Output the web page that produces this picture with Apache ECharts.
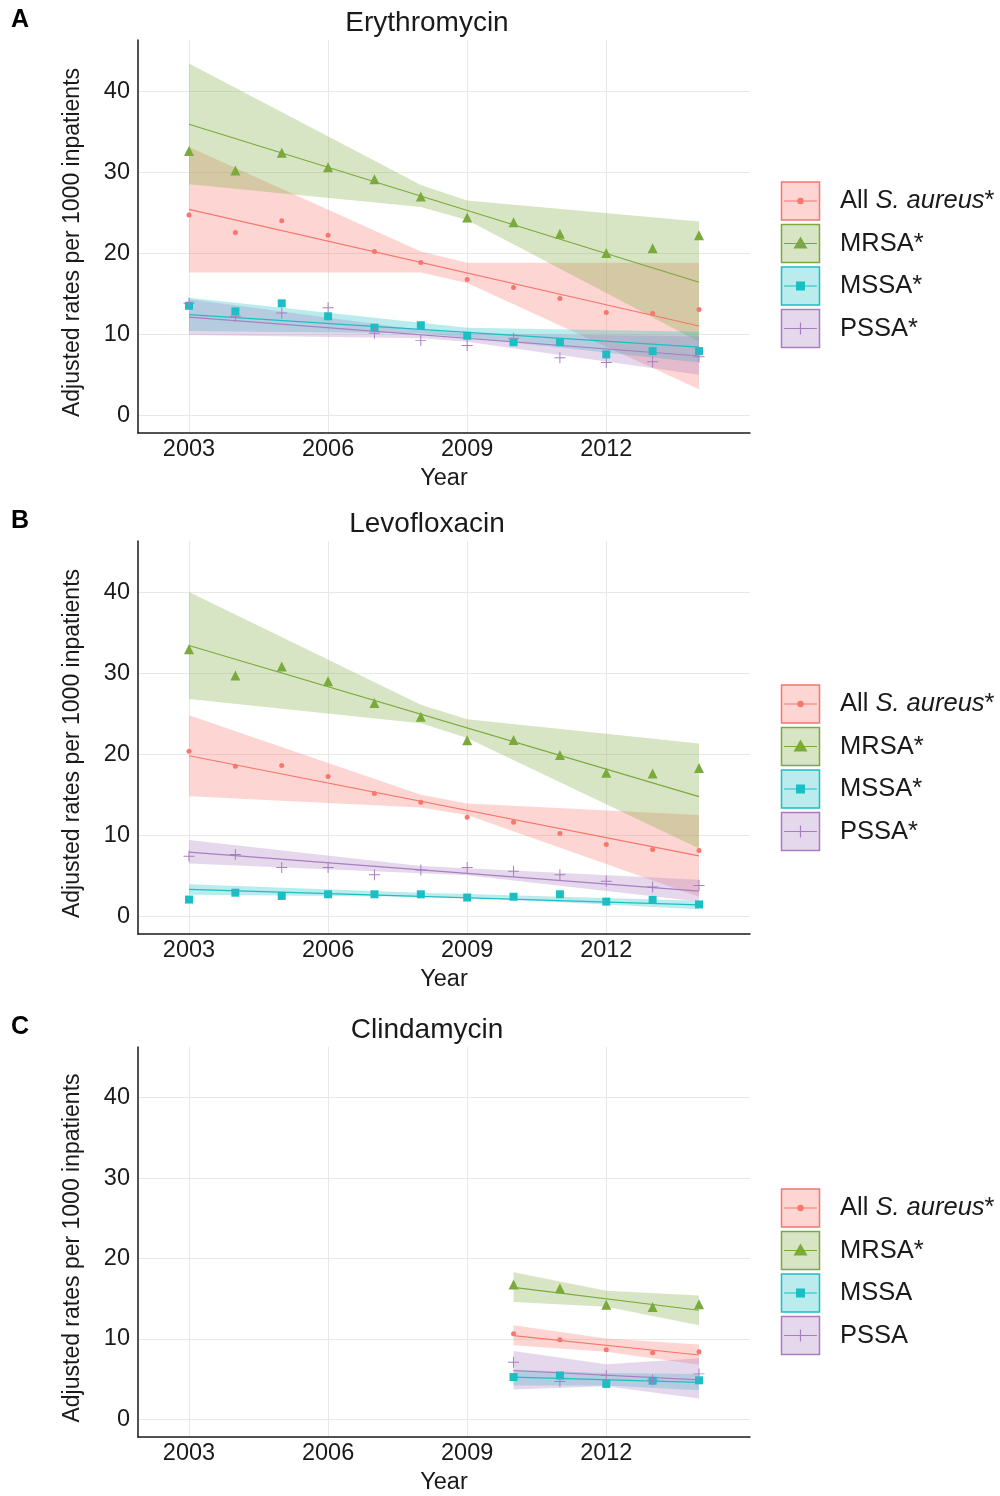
<!DOCTYPE html>
<html>
<head>
<meta charset="utf-8">
<script src="https://cdn.jsdelivr.net/npm/echarts@6/dist/echarts.min.js"></script>
<style>
  html, body { margin: 0; padding: 0; background: #fff; }
  #chart { width: 1000px; height: 1496px; }
</style>
</head>
<body>
<div id="chart"></div>
<script>
// groups, in legend order: All S. aureus, MRSA, MSSA, PSSA
const groups = ['All S. aureus', 'MRSA', 'MSSA', 'PSSA']
const colors = ['#F8766D', '#7AAA3C', '#1ABFC4', '#A97DC1']
const bands = ['rgba(248,118,109,0.3)', 'rgba(122,170,60,0.3)', 'rgba(26,191,196,0.3)', 'rgba(169,125,193,0.3)']

const panelTitles = ['Erythromycin', 'Levofloxacin', 'Clindamycin']
const panelLetters = ['A', 'B', 'C']
const legendStars = [['*', '*', '*', '*'], ['*', '*', '*', '*'], ['*', '*', '', '']]

const xTicks = [2003, 2006, 2009, 2012]
const yTicks = [0, 10, 20, 30, 40]

const yearsAB = [2003, 2004, 2005, 2006, 2007, 2008, 2009, 2010, 2011, 2012, 2013, 2014]
const bandYearsAB = [2003, 2008, 2009, 2014]
const yearsC = [2010, 2011, 2012, 2013, 2014]
const bandYearsC = [2010, 2012, 2014]

// A - Erythromycin
const eryPts = [
  [24.7, 22.55, 24.0, 22.2, 20.2, 18.85, 16.75, 15.76, 14.4, 12.67, 12.55, 13.05],
  [32.6, 30.2, 32.4, 30.6, 29.1, 27.0, 24.4, 23.8, 22.4, 20.0, 20.6, 22.2],
  [13.5, 12.8, 13.8, 12.2, 10.8, 11.1, 9.8, 9.0, 9.0, 7.5, 7.9, 7.9],
  [13.8, 12.2, 12.6, 13.25, 10.1, 9.2, 8.6, 9.5, 7.1, 6.5, 6.6, 7.2]
]
const eryFit = [[25.4, 11.0], [35.9, 16.4], [12.4, 8.4], [12.1, 7.3]]
const eryLo = [[17.6, 17.6, 16.3, 3.2], [28.5, 25.7, 24.1, 9.05], [10.4, 10.1, 9.55, 6.5], [9.9, 9.5, 9.05, 5.0]]
const eryHi = [[33.1, 20.2, 18.8, 18.8], [43.4, 28.4, 26.5, 23.9], [14.5, 11.4, 10.8, 10.3], [14.3, 10.5, 10.1, 9.7]]

// B - Levofloxacin
const levPts = [
  [20.35, 18.5, 18.6, 17.25, 15.15, 14.05, 12.2, 11.6, 10.2, 8.85, 8.24, 8.1],
  [32.95, 29.7, 30.8, 29.0, 26.3, 24.6, 21.7, 21.75, 19.9, 17.7, 17.6, 18.3],
  [2.05, 2.9, 2.5, 2.7, 2.7, 2.7, 2.3, 2.4, 2.7, 1.8, 2.0, 1.45],
  [7.4, 7.6, 6.0, 6.0, 5.1, 5.7, 6.0, 5.55, 5.1, 4.3, 3.6, 3.8]
]
const levFit = [[19.8, 7.45], [33.4, 14.75], [3.3, 1.4], [7.9, 3.1]]
const levLo = [[14.8, 13.4, 12.5, 2.4], [26.8, 23.8, 22.0, 8.35], [2.65, 2.4, 2.3, 0.85], [6.5, 5.3, 5.05, 1.8]]
const levHi = [[24.8, 15.0, 13.9, 12.5], [40.0, 26.1, 24.3, 21.3], [3.95, 2.9, 2.75, 1.9], [9.4, 6.2, 5.9, 4.5]]

// C - Clindamycin
const cliPts = [
  [10.63, 9.9, 8.66, 8.29, 8.4],
  [16.77, 16.3, 14.26, 13.97, 14.3],
  [5.25, 5.45, 4.4, 4.8, 4.85],
  [7.1, 4.7, 5.45, 4.9, 5.65]
]
const cliFit = [[10.4, 8.0], [16.4, 13.56], [5.25, 4.6], [6.07, 4.9]]
const cliLo = [[9.2, 8.4, 6.8], [14.6, 14.0, 11.7], [4.2, 4.2, 3.6], [3.7, 4.1, 2.6]]
const cliHi = [[11.7, 10.05, 9.3], [18.3, 16.0, 15.4], [6.15, 5.75, 5.65], [8.5, 6.85, 7.6]]

const panels = [
  { years: yearsAB, bandYears: bandYearsAB, pts: eryPts, fit: eryFit, lo: eryLo, hi: eryHi },
  { years: yearsAB, bandYears: bandYearsAB, pts: levPts, fit: levFit, lo: levLo, hi: levHi },
  { years: yearsC, bandYears: bandYearsC, pts: cliPts, fit: cliFit, lo: cliLo, hi: cliHi }
]

const FONT = '"Liberation Sans", Arial, Helvetica, sans-serif'
const gridTops = [40, 541, 1047]
const legendTops = [182, 685, 1189]
const symbols = ['circle', 'triangle', 'rect', 'path://M4.55,0H5.45V4.55H10V5.45H5.45V10H4.55V5.45H0V4.55H4.55Z']
const symbolSizes = [5, 10, 8, 11]

function bandRenderer (xs, lo, hi, fill) {
  return function (params, api) {
    if (params.dataIndex > 0) return null
    const upper = xs.map((x, i) => api.coord([x, hi[i]]))
    const lower = xs.map((x, i) => api.coord([x, lo[i]])).reverse()
    return { type: 'polygon', shape: { points: upper.concat(lower) }, style: { fill: fill } }
  }
}

const grid = [], xAxis = [], yAxis = [], series = [], graphic = []

panels.forEach((p, k) => {
  grid.push({ left: 138, width: 612, top: gridTops[k], height: 393 })
  xAxis.push({
    type: 'value', gridIndex: k, min: 2001.9, max: 2015.1,
    name: 'Year', nameLocation: 'middle', nameGap: 34,
    nameTextStyle: { fontSize: 23.5, color: '#1a1a1a', fontFamily: FONT },
    axisLine: { show: true, onZero: false, lineStyle: { color: '#1a1a1a', width: 1.5 } },
    axisTick: { show: false, customValues: xTicks },
    axisLabel: { customValues: xTicks, formatter: v => String(v), fontSize: 23.5, color: '#1a1a1a', fontFamily: FONT, margin: 5 },
    splitLine: { show: true, lineStyle: { color: '#e8e8e8', width: 1 } }
  })
  yAxis.push({
    type: 'value', gridIndex: k, min: -2.2, max: 46.3,
    name: 'Adjusted rates per 1000 inpatients', nameLocation: 'middle', nameGap: 54,
    nameTextStyle: { fontSize: 23, color: '#1a1a1a', fontFamily: FONT, padding: [0, 12, 0, 0] },
    axisLine: { show: true, onZero: false, lineStyle: { color: '#1a1a1a', width: 1.5 } },
    axisTick: { show: false, customValues: yTicks },
    axisLabel: { customValues: yTicks, fontSize: 23.5, color: '#1a1a1a', fontFamily: FONT, margin: 8 },
    splitLine: { show: true, lineStyle: { color: '#e8e8e8', width: 1 } }
  })

  // confidence bands
  groups.forEach((g, j) => {
    series.push({
      type: 'custom', name: g + ' band', xAxisIndex: k, yAxisIndex: k, silent: true,
      renderItem: bandRenderer(p.bandYears, p.lo[j], p.hi[j], bands[j]),
      data: p.bandYears.map((x, i) => [x, p.lo[j][i], p.hi[j][i]]),
      encode: { x: 0, y: [1, 2] }, z: 1
    })
  })
  // fitted lines
  groups.forEach((g, j) => {
    const ys = p.years
    series.push({
      type: 'line', name: g + ' fit', xAxisIndex: k, yAxisIndex: k, silent: true,
      showSymbol: false, z: 2,
      lineStyle: { color: colors[j], width: 1.2 },
      data: [[ys[0], p.fit[j][0]], [ys[ys.length - 1], p.fit[j][1]]]
    })
  })
  // points
  groups.forEach((g, j) => {
    series.push({
      type: 'scatter', name: g, xAxisIndex: k, yAxisIndex: k, silent: true, z: 3,
      symbol: symbols[j], symbolSize: symbolSizes[j],
      itemStyle: { color: colors[j], opacity: 1 },
      data: p.years.map((x, i) => [x, p.pts[j][i]])
    })
  })

  // panel letter and title
  graphic.push({
    type: 'text', left: 11, top: gridTops[k] - 32,
    style: { text: panelLetters[k], font: 'bold 25px ' + FONT, fill: '#000' }
  })
  graphic.push({
    type: 'text', x: 427, y: gridTops[k] - 17,
    style: { text: panelTitles[k], font: '28px ' + FONT, fill: '#1a1a1a', align: 'center', verticalAlign: 'middle' }
  })

  // legend keys
  groups.forEach((g, j) => {
    const top = legendTops[k] + j * 42.5
    const cy = top + 19
    const children = [
      { type: 'rect', shape: { x: 781.5, y: top, width: 38, height: 38 },
        style: { fill: bands[j], stroke: colors[j], lineWidth: 1.5 } },
      { type: 'line', shape: { x1: 784, y1: cy, x2: 817, y2: cy },
        style: { stroke: colors[j], lineWidth: 1.2 } }
    ]
    if (j === 0) children.push({ type: 'circle', shape: { cx: 800.5, cy: cy, r: 3.2 }, style: { fill: colors[j] } })
    if (j === 1) children.push({ type: 'polygon', shape: { points: [[800.5, cy - 7], [793.5, cy + 5], [807.5, cy + 5]] }, style: { fill: colors[j] } })
    if (j === 2) children.push({ type: 'rect', shape: { x: 796, y: cy - 4.5, width: 9, height: 9 }, style: { fill: colors[j] } })
    if (j === 3) {
      children.push({ type: 'line', shape: { x1: 800.5, y1: cy - 6, x2: 800.5, y2: cy + 6 }, style: { stroke: colors[j], lineWidth: 1.2 } })
    }
    const label = j === 0 ? 'All {i|S. aureus}' + legendStars[k][j] : g + legendStars[k][j]
    children.push({
      type: 'text', x: 840, y: cy,
      style: {
        text: label, font: '25.5px ' + FONT, fill: '#1a1a1a', verticalAlign: 'middle',
        rich: { i: { fontStyle: 'italic', fontSize: 25.5, fontFamily: FONT } }
      }
    })
    graphic.push({ type: 'group', children: children })
  })
})

const chart = echarts.init(document.getElementById('chart'), null, { renderer: 'canvas' })
chart.setOption({
  animation: false,
  backgroundColor: '#fff',
  textStyle: { fontFamily: FONT },
  grid: grid,
  xAxis: xAxis,
  yAxis: yAxis,
  series: series,
  graphic: graphic
})
window.addEventListener('resize', () => chart.resize())
</script>
</body>
</html>
